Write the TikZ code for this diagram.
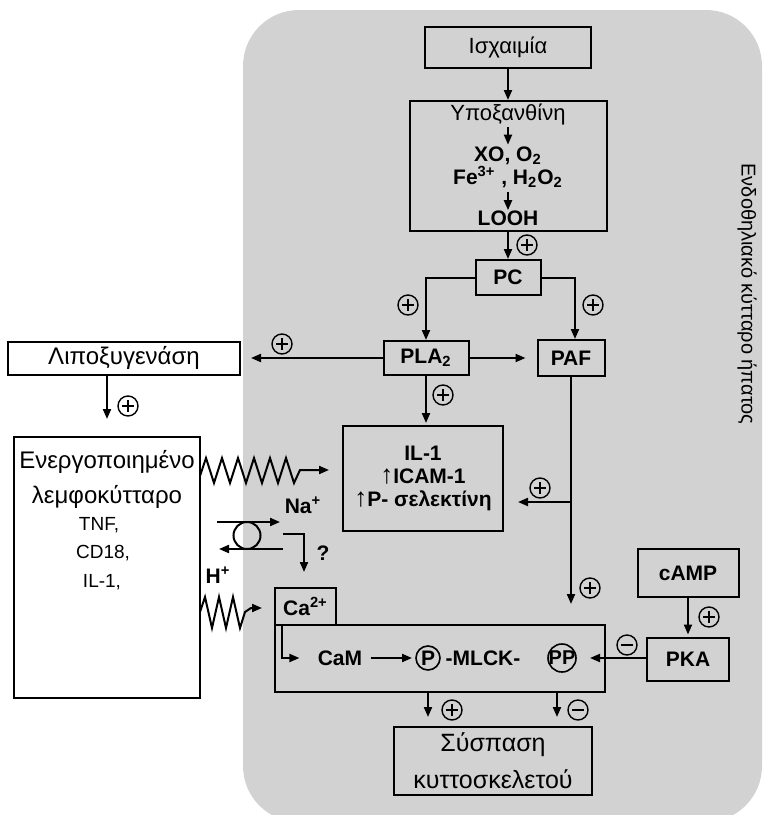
\documentclass[tikz,border=0pt]{standalone}
\usepackage{fontspec}
\setmainfont{Liberation Sans}
\usetikzlibrary{arrows.meta,calc}
\definecolor{bggray}{RGB}{210,210,210}
\newcommand{\uparr}{{\fontsize{13}{11}\selectfont\mdseries ↑}}
\begin{document}
\begin{tikzpicture}[x=0.5pt,y=-0.5pt,
  box/.style={draw, line width=1pt, inner sep=0pt, align=center},
  lab/.style={font=\fontsize{10.5}{12}\selectfont\bfseries, inner sep=0pt},
  reg/.style={font=\fontsize{11}{13}\selectfont, inner sep=0pt},
  big/.style={font=\fontsize{12}{14}\selectfont, inner sep=0pt},
  sml/.style={font=\fontsize{9.5}{11}\selectfont, inner sep=0pt},
  arr/.style={line width=1pt, -{Triangle[length=5pt,width=4pt]}},
  ln/.style={line width=1pt},
  pls/.style={circle, draw, line width=0.7pt, minimum size=10pt, inner sep=0pt,
    path picture={\draw[line width=0.7pt] ([xshift=2pt]path picture bounding box.west) -- ([xshift=-2pt]path picture bounding box.east)
      ([yshift=-2pt]path picture bounding box.north) -- ([yshift=2pt]path picture bounding box.south);}},
  mns/.style={circle, draw, line width=0.7pt, minimum size=10pt, inner sep=0pt,
    path picture={\draw[line width=0.7pt] ([xshift=2pt]path picture bounding box.west) -- ([xshift=-2pt]path picture bounding box.east);}}
]
\useasboundingbox (0,0) rectangle (763,815);
\fill[bggray, rounded corners=28pt] (243,10) rectangle (762,822);

% top chain
\node[box, reg, minimum width=83pt, minimum height=20.5pt] (isch) at (508,47.5) {Ισχαιμία};
\node[box, minimum width=98.5pt, minimum height=65pt] (hypo) at (508,166) {};
\node[reg] (hy1) at (508,114) {Υποξανθίνη};
\node[lab] (xo) at (508,156) {XO, O\textsubscript{2}};
\node[lab] (fe) at (508,177) {Fe\textsuperscript{3+} , H\textsubscript{2}O\textsubscript{2}};
\node[lab] (looh) at (508,218) {LOOH};
\draw[arr] (isch.south) -- (hypo.north);
\draw[arr, shorten <=1pt, shorten >=1pt] (hy1) -- (xo);
\draw[arr, shorten <=2pt, shorten >=0pt] (fe) -- (looh);

\node[box, lab, minimum width=32.5pt, minimum height=17.5pt] (pc) at (508,277.5) {PC};
\draw[arr] (hypo.south) -- (pc.north);
\node[pls] (s1) at (527,245) {};

\node[box, lab, minimum width=42.5pt, minimum height=17pt] (pla) at (426,358) {PLA\textsubscript{2}};
\node[box, lab, minimum width=33.5pt, minimum height=18pt] (paf) at (571,358) {PAF};
\draw[arr] (pc.west) -| (pla.north);
\draw[arr] (pc.east) -| ($(paf.north)+(4,0)$);
\node[pls] (s2) at (408,305) {};
\node[pls] (s3) at (593,305) {};
\draw[arr, shorten >=5.5pt] (pla.east) -- (paf.west);

% lipoxygenase
\node[box, big, minimum width=116pt, minimum height=16.5pt] (lipo) at (124,358) {Λιποξυγενάση};
\draw[arr, shorten >=5pt] (pla.west) -- (lipo.east);
\node[pls] (s4) at (282,344) {};

% lymphocyte
\node[box, minimum width=93pt, minimum height=130.5pt] (lymph) at (107,567.5) {};
\node[big] (ly1) at (107,462) {Ενεργοποιημένο};
\node[big] (ly2) at (107,497) {λεμφοκύτταρο};
\node[sml] (ly3) at (99,525) {TNF,};
\node[sml] (ly4) at (103,553) {CD18,};
\node[sml] (ly5) at (102,582) {IL-1,};
\draw[arr, shorten >=8.5pt] (lymph.north |- lipo.south) -- (lymph.north);
\node[pls] (s5) at (128,406) {};

% IL-1 box
\node[box, lab, font=\fontsize{10.5}{11.5}\selectfont\bfseries, minimum width=80pt, minimum height=52.5pt] (il) at (423,478.5) {IL-1\\\uparr ICAM-1\\\uparr P- σελεκτίνη};
\draw[arr, shorten >=1pt] (pla.south) -- (pla.south |- il.north);
\node[pls] (s6) at (443,395) {};

% zigzag to IL-1
\coordinate (zA) at (200,476);
\draw[arr] (zA) -- (206,458) -- (214,483) -- (222,458) -- (230,483) -- (238,458) -- (246,483)
  -- (254,458) -- (262,483) -- (270,458) -- (278,483) -- (286,458) -- (294,483)
  -- (300,470) -- ($(il.west)+(-13,-8.5)$);

% big MLCK box and Ca
\node[box, minimum width=165pt, minimum height=33.5pt] (big) at (440,658.5) {};
\node[box, lab, minimum width=30.5pt, minimum height=18.5pt] (ca) at (305.5,606.5) {Ca\textsuperscript{2+}};
\node[lab] (cam) at (340,658) {CaM};
\node[lab] (pt) at (428,658) {P};
\draw[line width=0.8pt] (pt.center) circle (6pt);
\node[lab] (mlck) at (483,658) {-MLCK-};
\node[lab, font=\fontsize{10}{12}\selectfont\bfseries] (ppt) at (562,658) {PP};
\draw[line width=0.8pt] (ppt.center) circle (7pt);
\coordinate (cain) at ($(ca.south west)+(8,0)$);
\draw[arr, shorten >=9pt] (cain) |- (cam.west);
\draw[arr, shorten <=4pt, shorten >=8pt] (cam.east) -- (pt.center);

% PAF to IL-1 and big box
\draw[arr, shorten >=10pt] (paf.south) -- (paf.south |- big.north);
\coordinate (br) at (571,502);
\draw[arr, shorten >=7pt] (br) -- (il.east |- br);
\node[pls] (s7) at (540,488) {};
\node[pls] (s8) at (590,588) {};

% cAMP / PKA
\node[box, lab, minimum width=50.5pt, minimum height=24pt] (camp) at (688,573) {cAMP};
\node[box, lab, minimum width=41pt, minimum height=21.5pt] (pka) at (688,659) {PKA};
\draw[arr, shorten >=1pt] (camp.south) -- (pka.north);
\node[pls] (s9) at (709,617) {};
\draw[arr, shorten >=14pt] (pka.west |- ppt) -- (ppt.center);
\node[mns] (s10) at (627,645) {};

% transporter
\coordinate (na1) at (217,522);
\coordinate (na2) at (280,522);
\draw[arr] (na1) -- (na2);
\node[circle, draw, line width=1pt, minimum size=13.5pt, inner sep=0pt] (tr) at (247,535.5) {};
\coordinate (h1) at (283,549);
\coordinate (h2) at (219,549);
\draw[arr] (h1) -- (h2);
\node[lab] (na) at (303,505) {Na\textsuperscript{+}};
\node[lab] (hp) at (218,575) {H\textsuperscript{+}};
\coordinate (q1) at (283,534);
\draw[arr, shorten >=7.5pt] (q1) -| (ca.north -| 304,0);
\node[lab] (qm) at (323,553) {?};

% lower zigzag to Ca
\coordinate (zB) at (200,612);
\draw[arr, shorten >=6pt] (zB) -- (205,597) -- (212,628) -- (219,597) -- (226,628) -- (233,597) -- (240,628)
  -- (245,612) -- (251,608) -- (ca.west |- 0,608);

% to contraction
\node[box, big, font=\fontsize{12.5}{18.5}\selectfont, minimum width=99pt, minimum height=34pt] (sys) at (493,761) {Σύσπαση\\κυττοσκελετού};
\draw[arr, shorten >=4.5pt] (big.south -| pt) -- (sys.north -| pt);
\coordinate (bs2) at (557,692);
\draw[arr, shorten >=4.5pt] (bs2) -- (sys.north -| bs2);
\node[pls] (s11) at (452,710) {};
\node[mns] (s12) at (578,710) {};

% side label
\node[font=\fontsize{10}{12}\selectfont, rotate=-90, inner sep=0pt] (vl) at (747,294) {Ενδοθηλιακό κύτταρο ήπατος};
\end{tikzpicture}
\end{document}
